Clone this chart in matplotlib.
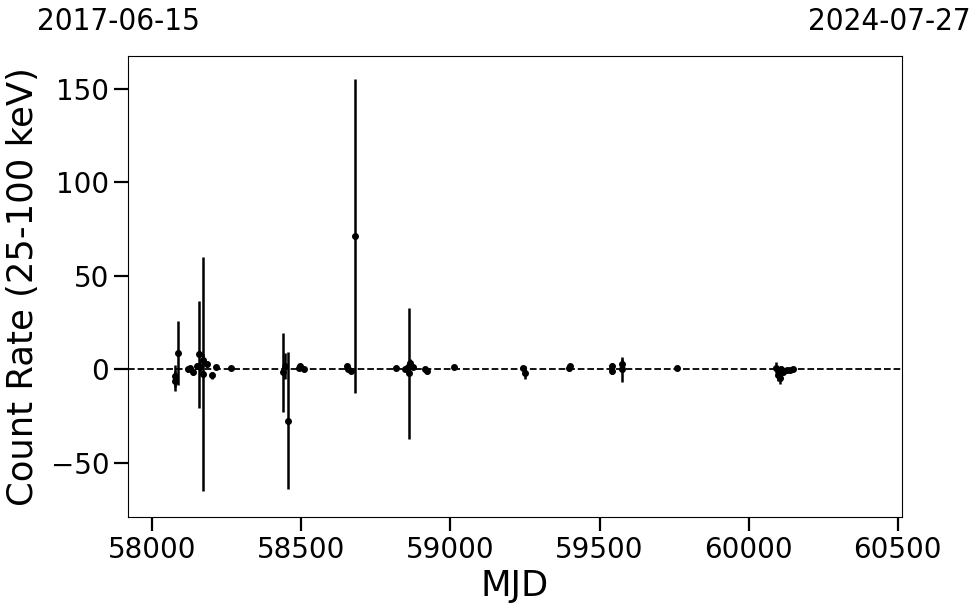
import matplotlib
matplotlib.use("Agg")
import matplotlib.pyplot as plt

# light curve points (MJD, rate, 1-sigma error)
mjd = [58077, 58077, 58088, 58120, 58127, 58138, 58150, 58157, 58160, 58170,
       58172, 58185, 58202, 58213, 58265,
       58440, 58446, 58457, 58494, 58496, 58509,
       58652, 58655, 58666, 58680,
       58818, 58848, 58858, 58861, 58863, 58876, 58915, 58923, 59012,
       59244, 59250, 59398, 59401, 59541, 59543, 59574, 59576, 59758,
       60093, 60099, 60105, 60110, 60116, 60127, 60138, 60147]
rate = [-6.2, -3.6, 8.9, 0.3, 0.9, -1.2, 1.8, 8.0, 1.5, -2.5,
        5.3, 2.7, -3.2, 1.4, 0.9,
        -1.6, 1.8, -27.3, 1.0, 1.8, 0.0,
        1.8, 0.5, -0.9, 71.3,
        0.9, 0.5, 1.2, -2.0, 3.6, 1.5, 0.0, -0.9, 1.4,
        0.9, -1.8, 0.9, 1.6, 1.8, -1.0, 0.0, 3.0, 1.0,
        0.9, -3.0, -4.5, 0.5, -1.5, -0.5, -0.2, 0.5]
err = [5.4, 6.0, 17.0, 1.5, 1.2, 1.5, 1.5, 28.5, 3.0, 62.5,
       3.0, 1.5, 2.0, 1.2, 1.0,
       21.0, 7.0, 36.5, 1.0, 1.2, 1.0,
       1.0, 1.0, 1.0, 84.0,
       1.0, 1.0, 2.0, 35.0, 2.0, 1.0, 1.5, 1.5, 1.0,
       1.0, 3.5, 1.5, 1.5, 1.5, 1.5, 6.5, 2.5, 1.0,
       3.0, 3.0, 3.5, 1.5, 1.5, 1.5, 1.0, 1.0]

top_labels = ["2017-06-15", "2024-07-27"]


def main():
    fig = plt.figure(figsize=(9.8, 6.13), dpi=100)
    ax = fig.add_axes([0.1306, 0.1566, 0.7898, 0.752])

    ax.errorbar(mjd, rate, yerr=err, fmt='o', color='black', ms=4,
                elinewidth=1.8, capsize=0)
    ax.axhline(0, color='black', ls='--', lw=1.3)

    ax.set_xlim(57919, 60514)
    ax.set_ylim(-78.9, 167.6)
    ax.set_xticks([58000, 58500, 59000, 59500, 60000, 60500])
    ax.set_yticks([-50, 0, 50, 100, 150])
    ax.tick_params(labelsize=20, length=10, width=1.6)
    ax.set_xlabel('MJD', fontsize=25.5)
    ax.set_ylabel('Count Rate (25-100 keV)', fontsize=25.5, labelpad=8)

    fig.text(118 / 980, 1 - 22 / 613, top_labels[0], fontsize=22.5,
             ha='center', va='center', fontstretch='condensed')
    fig.text(889 / 980, 1 - 22 / 613, top_labels[1], fontsize=22.5,
             ha='center', va='center', fontstretch='condensed')

    fig.savefig('out.png', dpi=100)


if __name__ == '__main__':
    main()
